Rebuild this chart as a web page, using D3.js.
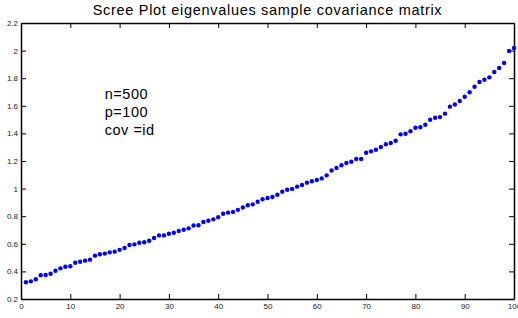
<!DOCTYPE html>
<html>
<head>
<meta charset="utf-8">
<script src="https://cdn.jsdelivr.net/npm/d3@7"></script>
<style>
  body { margin: 0; background: #fff; }
  svg { display: block; font-family: "Liberation Sans", Arial, sans-serif; }
</style>
</head>
<body>
<svg id="chart" width="518" height="318"></svg>
<script>
// sorted eigenvalues, index 1..100
const eigenvalues = [
  0.321, 0.328, 0.343, 0.372, 0.374, 0.383, 0.405, 0.422, 0.434, 0.437,
  0.463, 0.470, 0.478, 0.485, 0.514, 0.524, 0.529, 0.538, 0.543, 0.556,
  0.570, 0.591, 0.596, 0.608, 0.611, 0.622, 0.642, 0.661, 0.661, 0.673,
  0.680, 0.693, 0.702, 0.712, 0.733, 0.734, 0.758, 0.767, 0.777, 0.792,
  0.818, 0.826, 0.830, 0.846, 0.863, 0.879, 0.886, 0.905, 0.923, 0.932,
  0.939, 0.955, 0.977, 0.992, 0.998, 1.014, 1.026, 1.043, 1.053, 1.062,
  1.074, 1.096, 1.131, 1.149, 1.169, 1.186, 1.195, 1.214, 1.214, 1.260,
  1.270, 1.282, 1.301, 1.321, 1.330, 1.347, 1.393, 1.398, 1.416, 1.441,
  1.445, 1.463, 1.499, 1.513, 1.518, 1.543, 1.594, 1.609, 1.635, 1.666,
  1.698, 1.738, 1.772, 1.789, 1.806, 1.845, 1.874, 1.910, 1.997, 2.019
]
const xTicks = [0, 10, 20, 30, 40, 50, 60, 70, 80, 90, 100]
const yTicks = [0.2, 0.4, 0.6, 0.8, 1, 1.2, 1.4, 1.6, 1.8, 2, 2.2]
const yTickLabels = ['0.2', '0.4', '0.6', '0.8', '1', '1.2', '1.4', '1.6', '1.8', '2', '2.2']
const notes = ['n=500', 'p=100', 'cov =id']
const title = 'Scree Plot eigenvalues sample covariance matrix'

const svg = d3.select('#chart')
const plotLeft = 21, plotRight = 514, plotTop = 23, plotBottom = 299

const x = d3.scaleLinear().domain([0, 100]).range([plotLeft, plotRight])
const y = d3.scaleLinear().domain([0.2, 2.2]).range([plotBottom, plotTop])

// title (matlab renders it a bit wider)
svg.append('text')
  .attr('x', (plotLeft + plotRight) / 2)
  .attr('y', 15)
  .attr('text-anchor', 'middle')
  .attr('font-size', 14.5)
  .attr('letter-spacing', 0.7)
  .attr('fill', '#000')
  .text(title)

// axes, ticks pointing inward like matlab
const styleAxis = g => {
  g.select('.domain').attr('stroke', '#000').attr('stroke-width', 1.5)
  g.selectAll('.tick line').attr('stroke', '#000')
  g.selectAll('text').attr('font-size', 8).attr('fill', '#222')
}

svg.append('g')
  .attr('transform', `translate(0, ${plotBottom})`)
  .call(d3.axisBottom(x).tickValues(xTicks).tickSize(-5).tickSizeOuter(0).tickPadding(4))
  .call(styleAxis)

svg.append('g')
  .attr('transform', `translate(0, ${plotTop})`)
  .call(d3.axisTop(x).tickValues(xTicks).tickSize(-5).tickSizeOuter(0).tickFormat(''))
  .call(styleAxis)

svg.append('g')
  .attr('transform', `translate(${plotLeft}, 0)`)
  .call(d3.axisLeft(y).tickValues(yTicks).tickSize(-5).tickSizeOuter(0).tickPadding(3)
    .tickFormat((d, i) => yTickLabels[i]))
  .call(styleAxis)

svg.append('g')
  .attr('transform', `translate(${plotRight}, 0)`)
  .call(d3.axisRight(y).tickValues(yTicks).tickSize(-5).tickSizeOuter(0).tickFormat(''))
  .call(styleAxis)

// data points
svg.append('g')
  .selectAll('circle')
  .data(eigenvalues)
  .join('circle')
  .attr('cx', (d, i) => x(i + 1))
  .attr('cy', d => y(d))
  .attr('r', 2.2)
  .attr('fill', '#0000ff')

// annotation
svg.append('g')
  .selectAll('text')
  .data(notes)
  .join('text')
  .attr('x', x(17))
  .attr('y', (d, i) => 99 + i * 18)
  .attr('font-size', 14.5)
  .attr('letter-spacing', 0.5)
  .attr('fill', '#000')
  .text(d => d)
</script>
</body>
</html>
